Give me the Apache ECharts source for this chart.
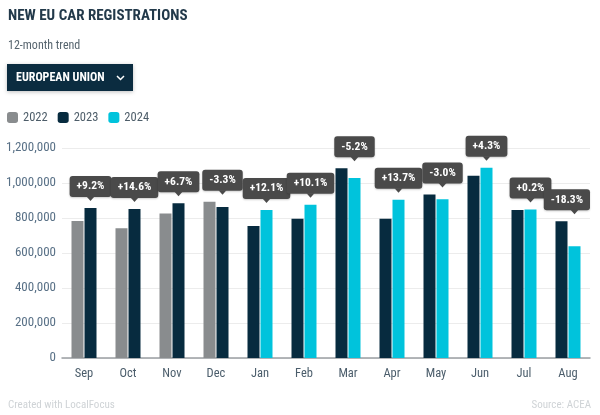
<!DOCTYPE html>
<html>
<head>
<meta charset="utf-8">
<script src="https://cdn.jsdelivr.net/npm/echarts@6/dist/echarts.min.js"></script>
<style>
html,body{margin:0;padding:0;background:#fff;}
#chart{width:600px;height:415px;}
</style>
</head>
<body>
<div id="chart"></div>
<script>
// ---- Data ----
const categories = ['Sep','Oct','Nov','Dec','Jan','Feb','Mar','Apr','May','Jun','Jul','Aug'];
// Sep-Dec 2022
const reg2022 = [783000, 742000, 826000, 893000];
// Jan-Dec 2023
const reg2023 = [754000, 796000, 1084000, 796000, 935000, 1042000, 846000, 781000, 857000, 851000, 884000, 863000];
// Jan-Aug 2024
const reg2024 = [846000, 876000, 1028000, 905000, 907000, 1087000, 848000, 638000];
const changeLabels = ['+9.2%','+14.6%','+6.7%','-3.3%','+12.1%','+10.1%','-5.2%','+13.7%','-3.0%','+4.3%','+0.2%','-18.3%'];
const yTicks = [0, 200000, 400000, 600000, 800000, 1000000, 1200000];

const FONT = "'Roboto Condensed','Liberation Sans Narrow','DejaVu Sans Condensed',Roboto,sans-serif";
const C2022 = '#898c8e', C2023 = '#072b3f', C2024 = '#00c3dc';
const BAR_W = 12, BAR_GAP_PX = 1;

// slot assignment: Sep-Dec compare 2022 vs 2023, Jan-Aug compare 2023 vs 2024
const nPrev = reg2022.length;
const s2022 = categories.map((c, i) => i < nPrev ? reg2022[i] : 0);
const s2023L = categories.map((c, i) => i < nPrev ? 0 : reg2023[i - nPrev]);
const s2023R = categories.map((c, i) => i < nPrev ? reg2023[12 - nPrev + i] : 0);
const s2024 = categories.map((c, i) => i < nPrev ? 0 : reg2024[i - nPrev]);
const labelData = categories.map((c, i) => {
  const left = s2022[i] + s2023L[i];
  const right = s2023R[i] + s2024[i];
  return [i, Math.max(left, right), changeLabels[i]];
});

const measureCtx = document.createElement('canvas').getContext('2d');
const LABEL_FONT = "bold 11.5px " + FONT;

const chart = echarts.init(document.getElementById('chart'), null, {renderer: 'canvas'});
const option = {
  animation: false,
  textStyle: {fontFamily: FONT},
  title: [
    {text: 'NEW EU CAR REGISTRATIONS', left: 3, top: 4,
     textStyle: {fontFamily: FONT, fontSize: 15, fontWeight: 'bold', color: '#22394a'}},
    {text: '12-month trend', left: 3, top: 35,
     textStyle: {fontFamily: FONT, fontSize: 12, fontWeight: 'normal', color: '#56646e'}},
    {text: 'Created with LocalFocus', left: 3, top: 395,
     textStyle: {fontFamily: FONT, fontSize: 11, fontWeight: 'normal', color: '#cfd3d6'}},
    {text: 'Source: ACEA', right: 4, top: 395,
     textStyle: {fontFamily: FONT, fontSize: 11, fontWeight: 'normal', color: '#cfd3d6'}}
  ],
  graphic: [
    {type: 'group', left: 7, top: 64, children: [
      {type: 'rect', shape: {x: 0, y: 0, width: 126, height: 27},
       style: {fill: '#0b2c40', shadowBlur: 4, shadowColor: 'rgba(0,0,0,0.25)', shadowOffsetY: 1}},
      {type: 'text', x: 9, y: 13.5,
       style: {text: 'EUROPEAN UNION', fill: '#ffffff', font: 'bold 12px ' + FONT, verticalAlign: 'middle'}},
      {type: 'polyline', shape: {points: [[110, 12], [113.5, 15.5], [117, 12]]},
       style: {stroke: '#ffffff', lineWidth: 1.5, fill: null}}
    ]}
  ],
  legend: {
    data: ['2022', '2023', '2024'],
    left: 2, top: 106,
    icon: 'roundRect', itemWidth: 11, itemHeight: 11, itemGap: 10,
    textStyle: {fontFamily: FONT, fontSize: 12.5, color: '#4d5d69'},
    selectedMode: false
  },
  grid: {left: 62, right: 10, top: 148, bottom: 57, containLabel: false},
  xAxis: {
    type: 'category', data: categories,
    axisLine: {lineStyle: {color: '#9a9ea2', width: 1.5}},
    axisTick: {show: false},
    axisLabel: {fontFamily: FONT, fontSize: 12.5, color: '#4b5d6b', margin: 9}
  },
  yAxis: {
    type: 'value', min: yTicks[0], max: yTicks[yTicks.length - 1], interval: yTicks[1] - yTicks[0],
    axisLine: {show: false}, axisTick: {show: false},
    axisLabel: {fontFamily: FONT, fontSize: 13, color: '#587086', margin: 6,
      formatter: v => v.toLocaleString('en-US')},
    splitLine: {lineStyle: {color: '#ececec', width: 1}}
  },
  series: [
    {name: '2022', type: 'bar', stack: 'L', data: s2022, barWidth: BAR_W, barGap: (BAR_GAP_PX / BAR_W * 100) + '%',
     itemStyle: {color: C2022}},
    {name: '2023', type: 'bar', stack: 'L', data: s2023L, barWidth: BAR_W, itemStyle: {color: C2023}},
    {name: '2023', type: 'bar', stack: 'R', data: s2023R, barWidth: BAR_W, itemStyle: {color: C2023}},
    {name: '2024', type: 'bar', stack: 'R', data: s2024, barWidth: BAR_W, itemStyle: {color: C2024}},
    {
      name: 'change', type: 'custom', data: labelData, z: 10,
      encode: {x: 0, y: 1},
      renderItem: function (params, api) {
        const idx = api.value(0);
        const top = api.coord([idx, api.value(1)]);
        const text = changeLabels[idx];
        const cx = top[0] + BAR_W / 2 + BAR_GAP_PX / 2;
        measureCtx.font = LABEL_FONT;
        const tw = measureCtx.measureText(text).width;
        const bw = tw + 14, bh = 21;
        let bx = cx - bw / 2;
        const maxRight = api.getWidth() - 10;
        if (bx + bw > maxRight) bx = maxRight - bw;
        const tipY = top[1] - 7;
        const by = tipY - 4 - bh;
        return {
          type: 'group', children: [
            {type: 'rect', shape: {x: bx, y: by, width: bw, height: bh, r: 3},
             style: {fill: '#4a4a4a', shadowBlur: 2, shadowColor: 'rgba(0,0,0,0.2)', shadowOffsetY: 1}},
            {type: 'polygon', shape: {points: [[cx - 4, by + bh - 0.5], [cx + 4, by + bh - 0.5], [cx, tipY]]},
             style: {fill: '#4a4a4a'}},
            {type: 'text', x: bx + bw / 2, y: by + bh / 2,
             style: {text: text, fill: '#ffffff', font: LABEL_FONT, align: 'center', verticalAlign: 'middle'}}
          ]
        };
      }
    }
  ]
};
chart.setOption(option);
</script>
</body>
</html>
